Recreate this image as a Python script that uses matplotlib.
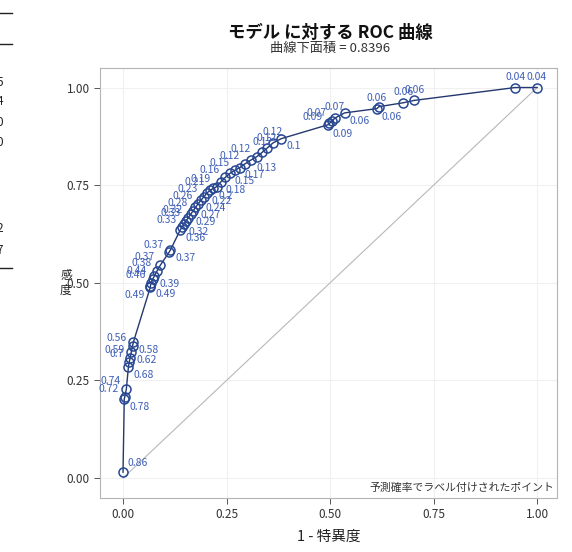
import matplotlib
matplotlib.use("Agg")
import matplotlib.pyplot as plt

plt.rcParams['font.family'] = ['Noto Sans CJK JP', 'DejaVu Sans']

# ---- data ----
title = "モデル に対する ROC 曲線"
subtitle = "曲線下面積 = 0.8396"
xlabel = "1 - 特異度"
ylabel = "感度"
note = "予測確率でラベル付けされたポイント"
tick_vals = [0.0, 0.25, 0.5, 0.75, 1.0]
tick_labels = ["0.00", "0.25", "0.50", "0.75", "1.00"]

fpr = [0.000, 0.003, 0.004, 0.008, 0.013, 0.015, 0.017, 0.020, 0.023, 0.025,
       0.066, 0.066, 0.068, 0.072, 0.076, 0.082, 0.090, 0.111, 0.114,
       0.138, 0.142, 0.147, 0.152, 0.157, 0.163, 0.169, 0.175, 0.181, 0.188,
       0.195, 0.202, 0.210, 0.218, 0.226, 0.236, 0.247, 0.258, 0.270, 0.282,
       0.295, 0.310, 0.323, 0.336, 0.347, 0.362,
       0.382, 0.496, 0.498, 0.505, 0.512, 0.535, 0.613, 0.618, 0.677, 0.703,
       0.947, 1.000]
tpr = [0.015, 0.202, 0.207, 0.228, 0.284, 0.297, 0.307, 0.323, 0.338, 0.348,
       0.489, 0.492, 0.499, 0.510, 0.518, 0.530, 0.545, 0.578, 0.583,
       0.635, 0.642, 0.650, 0.658, 0.666, 0.675, 0.684, 0.693, 0.702, 0.711,
       0.720, 0.729, 0.737, 0.742, 0.746, 0.758, 0.770, 0.780, 0.788, 0.795,
       0.805, 0.815, 0.823, 0.834, 0.844, 0.858,
       0.869, 0.905, 0.908, 0.915, 0.922, 0.935, 0.946, 0.951, 0.961, 0.967,
       1.000, 1.000]
prob_labels = ["0.86", "0.78", "0.72", "0.74", "0.68", "0.7", "0.59", "0.62", "0.56", "0.58",
               "0.49", "0.49", "0.46", "0.44", "0.39", "0.38", "0.37", "0.37", "0.37",
               "0.36", "0.33", "0.32", "0.33", "0.32", "0.29", "0.28", "0.27", "0.26", "0.24",
               "0.23", "0.22", "0.21", "0.2", "0.19", "0.18", "0.16", "0.15", "0.15", "0.17",
               "0.12", "0.13", "0.12", "0.12", "0.12", "0.12",
               "0.1", "0.09", "0.09", "0.07", "0.07", "0.06", "0.06", "0.06", "0.06", "0.06",
               "0.04", "0.04"]
# label placement: R = lower right, L = upper left, A = above, B = below right, U = upper right
label_side = ["U", "R", "L", "L", "R", "L", "L", "R", "L", "R",
              "LB", "R", "L", "L", "R", "L", "L", "L", "R",
              "R", "L", "R", "L", "L", "R", "L", "R", "L", "R",
              "L", "R", "L", "R", "L", "R", "L", "R", "L", "R",
              "L", "R", "L", "A", "A", "A",
              "R", "L", "B", "L", "A", "R", "A", "B", "A", "A",
              "A", "A"]

# ---- figure ----
fig = plt.figure(figsize=(5.72, 5.52), dpi=100)
ax = fig.add_axes([100/572, 1-498/552, 457/572, 430/552])
ax.set_xlim(-0.0556, 1.048)
ax.set_ylim(-0.051, 1.05)

frame_c = "#b4b4b4"
for s in ax.spines.values():
    s.set_color(frame_c)
    s.set_linewidth(0.8)
ax.set_xticks(tick_vals)
ax.set_xticklabels(tick_labels)
ax.set_yticks(tick_vals)
ax.set_yticklabels(tick_labels)
ax.tick_params(colors="#555555", labelcolor="#333333", labelsize=8.5, length=4, width=0.7)
ax.grid(True, color="#f0f0f0", linewidth=0.8)
ax.set_axisbelow(True)

ax.plot([0, 1], [0, 1], color="#b8b8b8", linewidth=0.8, zorder=1)
ax.plot(fpr, tpr, color="#24386f", linewidth=1.0, marker="o", markersize=6.5,
        markerfacecolor="none", markeredgecolor="#284893", markeredgewidth=1.1, zorder=3)

lab_c = "#3f5fb8"
offs = {"R": (3.5, -2, "left", "top"), "L": (-4, 2, "right", "bottom"),
        "A": (0, 4, "center", "bottom"), "B": (2, -4, "left", "top"),
        "U": (3, 3, "left", "bottom"), "LB": (-4, -2, "right", "top")}
for x, y, t, s in zip(fpr, tpr, prob_labels, label_side):
    dx, dy, ha, va = offs[s]
    ax.annotate(t, (x, y), xytext=(dx, dy), textcoords="offset points",
                ha=ha, va=va, fontsize=7.5, color=lab_c, zorder=4)

ax.text(0.995, 0.012, note, transform=ax.transAxes, ha="right", va="bottom",
        fontsize=7.8, color="#333333")

ax.set_xlabel(xlabel, fontsize=10.5, color="#222222", labelpad=6)
fig.text(66/572, 1-283/552, "\n".join(ylabel), ha="center", va="center",
         fontsize=8.5, color="#222222", linespacing=1.25)

fig.text(330/572, 1-33/552, title, ha="center", va="center", fontsize=12.5,
         fontweight="bold", color="#111111")
fig.text(330/572, 1-48/552, subtitle, ha="center", va="center", fontsize=9.5,
         color="#333333")

# fragments of neighbouring page at left edge
for yy in [13, 44, 268]:
    fig.add_artist(plt.Line2D([0, 12/572], [1-yy/552, 1-yy/552], color="#222222",
                              linewidth=1.0))
for yy, d in zip([83, 102, 122, 142, 228, 250], ["5", "4", "0", "0", "2", "7"]):
    fig.text(0/572, 1-yy/552, d, ha="center", va="center", fontsize=8.5, color="#222222")

fig.savefig("out.png", dpi=100)
